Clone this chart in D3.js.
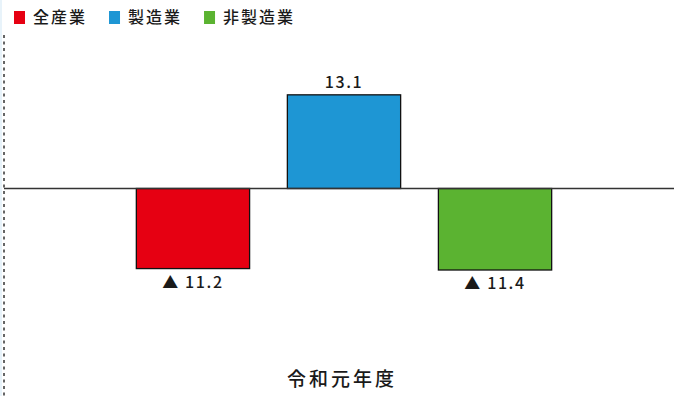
<!DOCTYPE html>
<html>
<head>
<meta charset="utf-8">
<script src="https://cdn.jsdelivr.net/npm/d3@7"></script>
<style>
  body { margin: 0; background: #fff; }
  text { font-family: "Noto Sans CJK JP", "Noto Sans", sans-serif; fill: #1a1a1a; font-weight: 500; }
</style>
</head>
<body>
<script>
// 業種別の前年度比（％）
const categories = ["令和元年度"];
const series = ["全産業", "製造業", "非製造業"];
const values = [-11.2, 13.1, -11.4];
const colors = ["#E60012", "#1E96D4", "#5BB331"];

var width = 674;
var height = 396;
var margin = {left: 4, top: 35};

var svg = d3.select("body").append("svg")
    .attr("width", width)
    .attr("height", height);

// faint strip at the left edge
svg.append("rect")
    .attr("x", 0).attr("y", 0)
    .attr("width", 2).attr("height", height)
    .attr("fill", "#e8f3fa");

// scales
var x0 = d3.scaleBand().domain(categories).range([14, width]);
var x1 = d3.scaleBand().domain(series)
    .range([0, x0.bandwidth()])
    .paddingInner(0.25)
    .paddingOuter(0.81);
var y = d3.scaleLinear().domain([-15, 15]).range([295.75, 81.25]);

// dotted left axis
svg.append("line")
    .attr("x1", margin.left).attr("x2", margin.left)
    .attr("y1", margin.top).attr("y2", height)
    .attr("stroke", "#333")
    .attr("stroke-width", 1.5)
    .attr("stroke-dasharray", "3,3.5");

var group = svg.append("g")
    .attr("transform", "translate(" + x0(categories[0]) + ",0)");

// bars
group.selectAll("rect.bar")
    .data(values)
    .join("rect")
    .attr("class", "bar")
    .attr("x", (d, i) => x1(series[i]))
    .attr("y", d => y(Math.max(0, d)))
    .attr("width", x1.bandwidth())
    .attr("height", d => Math.abs(y(d) - y(0)))
    .attr("fill", (d, i) => colors[i])
    .attr("stroke", "#111")
    .attr("stroke-width", 1.3);

// zero line
svg.append("line")
    .attr("x1", margin.left).attr("x2", width)
    .attr("y1", y(0)).attr("y2", y(0))
    .attr("stroke", "#333")
    .attr("stroke-width", 1.5);

// value labels, negatives written with ▲
group.selectAll("text.val")
    .data(values)
    .join("text")
    .attr("class", "val")
    .attr("x", (d, i) => x1(series[i]) + x1.bandwidth() / 2)
    .attr("y", d => d >= 0 ? y(d) - 7 : y(d) + 19)
    .attr("text-anchor", "middle")
    .attr("font-size", "16px")
    .attr("letter-spacing", "1.6px")
    .text(d => d >= 0 ? d.toFixed(1) : "▲ " + Math.abs(d).toFixed(1));

// category label
svg.append("text")
    .attr("x", x0(categories[0]) + x0.bandwidth() / 2 - 2)
    .attr("y", 386)
    .attr("text-anchor", "middle")
    .attr("font-size", "19px")
    .attr("letter-spacing", "3px")
    .text(categories[0]);

// legend
var lx = 14;
series.forEach((s, i) => {
    svg.append("rect")
        .attr("x", lx).attr("y", 11)
        .attr("width", 11).attr("height", 13)
        .attr("fill", colors[i]);
    var t = svg.append("text")
        .attr("x", lx + 19)
        .attr("y", 23)
        .attr("font-size", "16px")
        .attr("letter-spacing", "2px")
        .text(s);
    lx += 19 + t.node().getComputedTextLength() + 22;
});
</script>
</body>
</html>
